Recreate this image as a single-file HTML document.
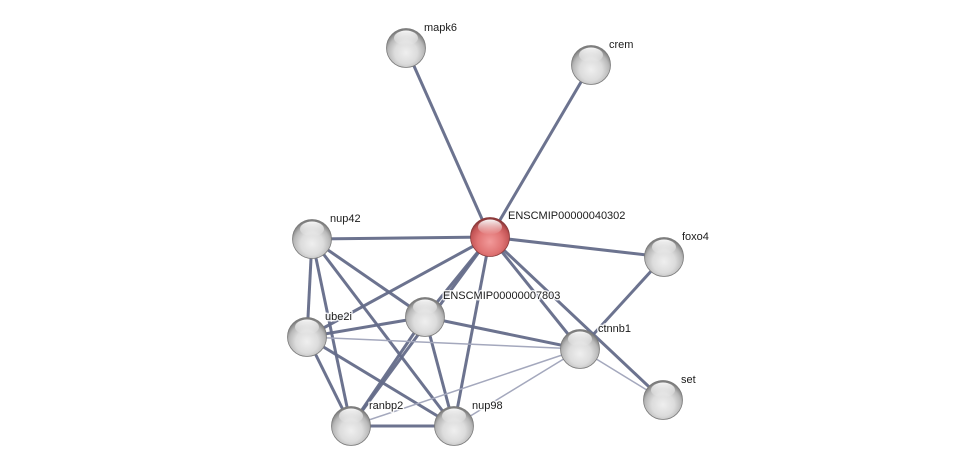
<!DOCTYPE html>
<html><head><meta charset="utf-8"><style>
html,body{margin:0;padding:0;background:#fff;}
svg{display:block;}
text{font-family:"Liberation Sans",Arial,sans-serif;font-size:11px;fill:#1b1b1b;stroke:#fff;stroke-width:3px;stroke-opacity:0.85;paint-order:stroke;stroke-linejoin:round;}
</style></head><body>
<svg width="975" height="471" viewBox="0 0 975 471" xmlns="http://www.w3.org/2000/svg">
<defs>
<radialGradient id="g" cx="50%" cy="62%" r="58%">
<stop offset="0" stop-color="#efefef"/>
<stop offset="0.5" stop-color="#dcdcdc"/>
<stop offset="0.8" stop-color="#b8b8b8"/>
<stop offset="1" stop-color="#7e7e7e"/>
</radialGradient>
<radialGradient id="r" cx="50%" cy="62%" r="58%">
<stop offset="0" stop-color="#f29a9a"/>
<stop offset="0.55" stop-color="#e07474"/>
<stop offset="0.85" stop-color="#c45556"/>
<stop offset="1" stop-color="#8e3a3b"/>
</radialGradient>
<linearGradient id="h" x1="0" y1="0" x2="0" y2="1">
<stop offset="0" stop-color="#fff" stop-opacity="0.95"/>
<stop offset="1" stop-color="#fff" stop-opacity="0"/>
</linearGradient>
<g id="hl"><ellipse cx="0" cy="-10" rx="12" ry="7.5" fill="url(#h)"/></g>
</defs>

<g stroke="#646b89" stroke-width="3" stroke-linecap="butt" fill="none" stroke-opacity="0.95">
<line x1="406" y1="48" x2="490" y2="237"/>
<line x1="591" y1="65" x2="490" y2="237"/>
<line x1="312" y1="239" x2="490" y2="237"/>
<line x1="490" y1="237" x2="664" y2="257"/>
<line x1="490" y1="237" x2="580" y2="349"/>
<line x1="490" y1="237" x2="663" y2="400"/>
<line x1="490" y1="237" x2="425" y2="317"/>
<line x1="490" y1="237" x2="307" y2="337"/>
<line x1="490" y1="237" x2="351" y2="426"/>
<line x1="490" y1="237" x2="454" y2="426"/>
<line x1="312" y1="239" x2="307" y2="337"/>
<line x1="312" y1="239" x2="351" y2="426"/>
<line x1="312" y1="239" x2="454" y2="426"/>
<line x1="312" y1="239" x2="425" y2="317"/>
<line x1="307" y1="337" x2="425" y2="317"/>
<line x1="307" y1="337" x2="351" y2="426"/>
<line x1="307" y1="337" x2="454" y2="426"/>
<line x1="425" y1="317" x2="454" y2="426"/>
<line x1="425" y1="317" x2="351" y2="426"/>
<line x1="425" y1="317" x2="580" y2="349"/>
<line x1="351" y1="426" x2="454" y2="426"/>
<line x1="580" y1="349" x2="664" y2="257"/>
</g>
<g stroke="#a4a8bd" stroke-width="1.5" fill="none">
<line x1="307" y1="337" x2="580" y2="349"/>
<line x1="351" y1="426" x2="580" y2="349"/>
<line x1="454" y1="426" x2="580" y2="349"/>
<line x1="580" y1="349" x2="663" y2="400"/>
</g>

<g>
<g transform="translate(406,48)"><circle r="19.5" fill="url(#g)" stroke="#7a7a7a" stroke-width="0.8"/><use href="#hl"/></g>
<g transform="translate(591,65)"><circle r="19.5" fill="url(#g)" stroke="#7a7a7a" stroke-width="0.8"/><use href="#hl"/></g>
<g transform="translate(312,239)"><circle r="19.5" fill="url(#g)" stroke="#7a7a7a" stroke-width="0.8"/><use href="#hl"/></g>
<g transform="translate(664,257)"><circle r="19.5" fill="url(#g)" stroke="#7a7a7a" stroke-width="0.8"/><use href="#hl"/></g>
<g transform="translate(425,317)"><circle r="19.5" fill="url(#g)" stroke="#7a7a7a" stroke-width="0.8"/><use href="#hl"/></g>
<g transform="translate(307,337)"><circle r="19.5" fill="url(#g)" stroke="#7a7a7a" stroke-width="0.8"/><use href="#hl"/></g>
<g transform="translate(580,349)"><circle r="19.5" fill="url(#g)" stroke="#7a7a7a" stroke-width="0.8"/><use href="#hl"/></g>
<g transform="translate(663,400)"><circle r="19.5" fill="url(#g)" stroke="#7a7a7a" stroke-width="0.8"/><use href="#hl"/></g>
<g transform="translate(351,426)"><circle r="19.5" fill="url(#g)" stroke="#7a7a7a" stroke-width="0.8"/><use href="#hl"/></g>
<g transform="translate(454,426)"><circle r="19.5" fill="url(#g)" stroke="#7a7a7a" stroke-width="0.8"/><use href="#hl"/></g>
<g transform="translate(490,237)"><circle r="19.5" fill="url(#r)" stroke="#8a3a3a" stroke-width="0.8"/><use href="#hl"/></g>
</g>

<g>
<text x="424" y="31">mapk6</text>
<text x="609" y="48">crem</text>
<text x="508" y="219">ENSCMIP00000040302</text>
<text x="330" y="222">nup42</text>
<text x="682" y="240">foxo4</text>
<text x="443" y="299">ENSCMIP00000007803</text>
<text x="325" y="320">ube2i</text>
<text x="598" y="332">ctnnb1</text>
<text x="681" y="383">set</text>
<text x="369" y="409">ranbp2</text>
<text x="472" y="409">nup98</text>
</g>
</svg>
</body></html>
